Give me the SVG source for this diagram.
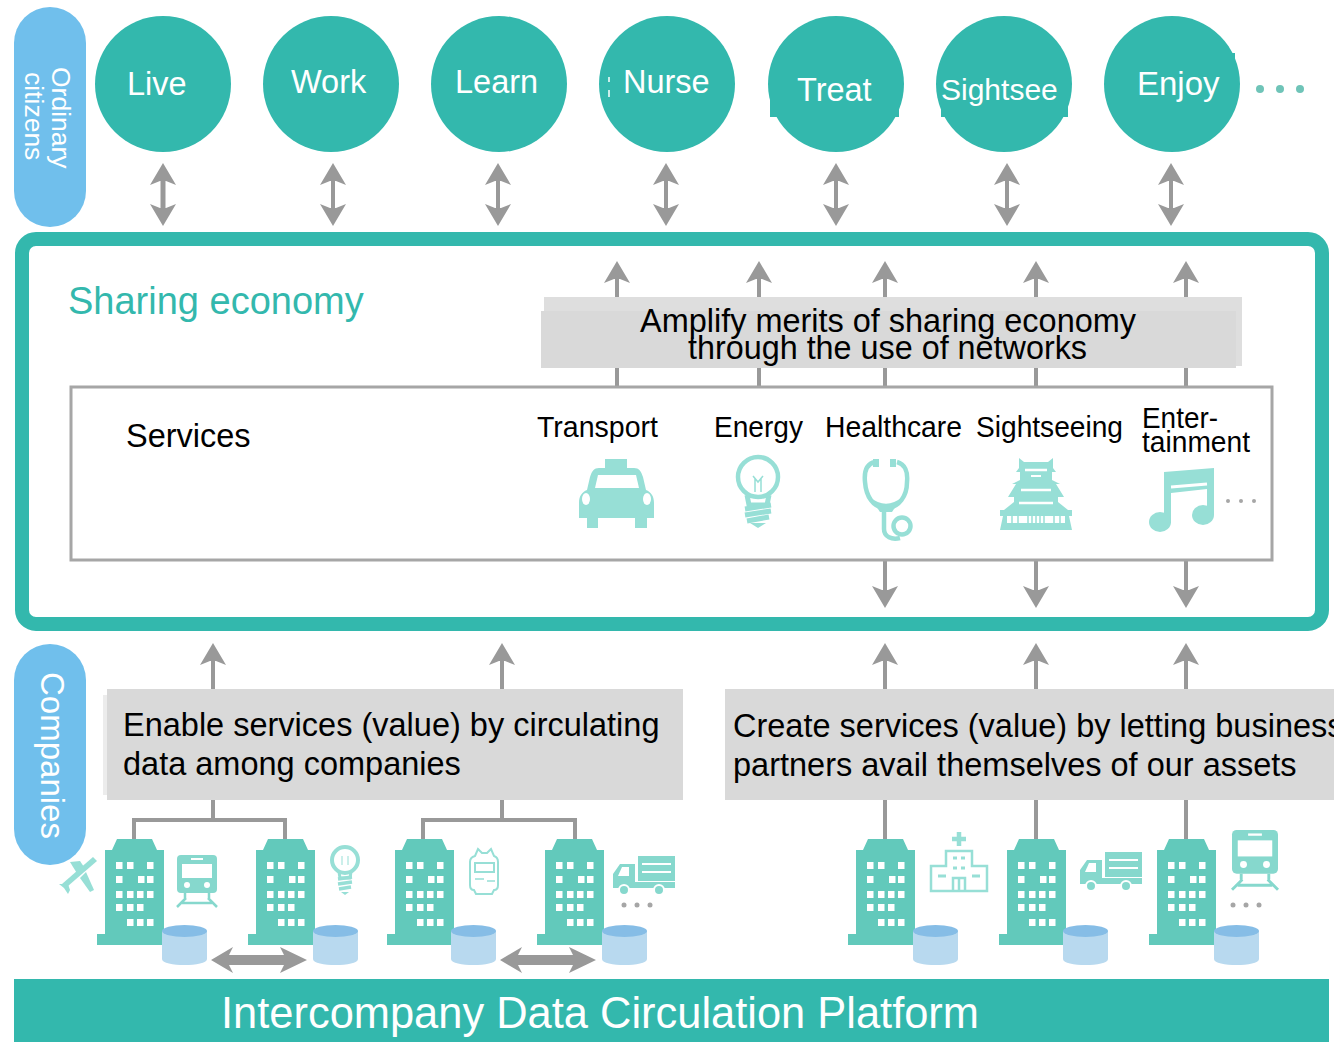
<svg xmlns="http://www.w3.org/2000/svg" width="1334" height="1042" viewBox="0 0 1334 1042">
<style>
text{font-family:"Liberation Sans",Arial,sans-serif;fill:#000}
.c{fill:#33b8ad}
.circ{font-size:32.500px;fill:#fff}
.lab{font-size:29px}
.big{font-size:32.500px}
.line{stroke:#999;stroke-width:4;fill:none}
.head{fill:#999}
.ic{fill:#97dfd6}
.ico{fill:none;stroke:#97dfd6;stroke-width:4.500}
.box{fill:#d9d9d9}
.dot{fill:#a6a6a6}
</style>
<defs>
<path id="upH" d="M0,0 L13,22 L3,18 L-3,18 L-13,22 Z"/>
<path id="dnH" d="M0,0 L13,-22 L3,-18 L-3,-18 L-13,-22 Z"/>
<g id="bld">
<path d="M0,106 V95 H8 V11 H15 L20,0 H55 L60,11 H67 V106 Z" fill="#62c9bb"/>
<g fill="#fff">
<rect x="19" y="23" width="6.500" height="7"/><rect x="30" y="23" width="6.500" height="7"/><rect x="50" y="23" width="6.500" height="7"/>
<rect x="19" y="37" width="6.500" height="7"/><rect x="41" y="37" width="6.500" height="7"/><rect x="50" y="37" width="6.500" height="7"/>
<rect x="19" y="52" width="6.500" height="7"/><rect x="30" y="52" width="6.500" height="7"/><rect x="40" y="52" width="6.500" height="7"/><rect x="50" y="52" width="6.500" height="7"/>
<rect x="19" y="65" width="6.500" height="7"/><rect x="30" y="65" width="6.500" height="7"/><rect x="40" y="65" width="6.500" height="7"/>
<rect x="30" y="80" width="6.500" height="7"/><rect x="40" y="80" width="6.500" height="7"/><rect x="50" y="80" width="6.500" height="7"/>
</g>
</g>
<g id="cyl">
<path d="M0,6 V34 C0,42 45,42 45,34 V6 Z" fill="#b8d9ef"/>
<ellipse cx="22.500" cy="6" rx="22.500" ry="6" fill="#86bde6"/>
</g>
<g id="train">
<rect x="0" y="0" width="40" height="38" rx="4" fill="#86d8cd"/>
<rect x="5" y="9" width="30" height="14" fill="#fff"/>
<rect x="14" y="3" width="12" height="2" fill="#fff"/>
<circle cx="10" cy="30" r="3" fill="#fff"/><circle cx="30" cy="30" r="3" fill="#fff"/>
<path d="M8,38 V43 M32,38 V43 M9,43 L0,52 M31,43 L40,52 M5,48 H35" fill="none" stroke="#86d8cd" stroke-width="2.500"/>
</g>
<g id="truck">
<rect x="25" y="0" width="37" height="25" fill="#86d8cd"/>
<path d="M29,8 H58 M29,16 H58" stroke="#fff" stroke-width="2"/>
<path d="M0,32 V18 L7,8 H22 V26 H62 V32 Z" fill="#86d8cd"/>
<path d="M5,20 L9,11 H16 V20 Z" fill="#fff"/>
<circle cx="11" cy="34" r="5" fill="#86d8cd" stroke="#fff" stroke-width="2"/>
<circle cx="46" cy="34" r="5" fill="#86d8cd" stroke="#fff" stroke-width="2"/>
</g>
<g id="bulb">
<circle cx="15" cy="15" r="13" fill="none" stroke="#97dfd6" stroke-width="4"/>
<path d="M9,27 L10,33 H20 L21,27" fill="none" stroke="#97dfd6" stroke-width="3"/>
<path d="M8,34 L22,32 M8,39 L22,37 M9,44 L21,42" stroke="#97dfd6" stroke-width="3.500"/>
<path d="M11,47 H19 L15,50 Z" fill="#97dfd6"/>
<path d="M12,11 V20 M18,11 V20" stroke="#97dfd6" stroke-width="1"/>
</g>
</defs>

<g id="connectors">
<g id="arrows-citizens">
<g transform="translate(163,0)"><path class="line" style="stroke-width:5" d="M0,175 V215"/><use href="#upH" y="163" class="head"/><use href="#dnH" y="226" class="head"/></g>
<g transform="translate(333,0)"><path class="line" d="M0,175 V215"/><use href="#upH" y="163" class="head"/><use href="#dnH" y="226" class="head"/></g>
<g transform="translate(498,0)"><path class="line" d="M0,175 V215"/><use href="#upH" y="163" class="head"/><use href="#dnH" y="226" class="head"/></g>
<g transform="translate(666,0)"><path class="line" d="M0,175 V215"/><use href="#upH" y="163" class="head"/><use href="#dnH" y="226" class="head"/></g>
<g transform="translate(836,0)"><path class="line" d="M0,175 V215"/><use href="#upH" y="163" class="head"/><use href="#dnH" y="226" class="head"/></g>
<g transform="translate(1007,0)"><path class="line" d="M0,175 V215"/><use href="#upH" y="163" class="head"/><use href="#dnH" y="226" class="head"/></g>
<g transform="translate(1171,0)"><path class="line" d="M0,175 V215"/><use href="#upH" y="163" class="head"/><use href="#dnH" y="226" class="head"/></g>
</g>
<g id="arrows-services">
<path class="line" d="M617,275 V387 M759,275 V387 M885,275 V387 M1036,275 V387 M1186,275 V387"/>
<use href="#upH" x="617" y="261" class="head"/><use href="#upH" x="759" y="261" class="head"/><use href="#upH" x="885" y="261" class="head"/><use href="#upH" x="1036" y="261" class="head"/><use href="#upH" x="1186" y="261" class="head"/>
<path class="line" d="M885,560 V595 M1036,560 V595 M1186,560 V595"/>
<use href="#dnH" x="885" y="608" class="head"/><use href="#dnH" x="1036" y="608" class="head"/><use href="#dnH" x="1186" y="608" class="head"/>
</g>
<g id="arrows-companies">
<path class="line" d="M213,656 V820 M134,839 V820 H285 V839 M502,656 V820 M423,839 V820 H575 V839 M885,656 V839 M1036,656 V839 M1186,656 V839"/>
<use href="#upH" x="213" y="643" class="head"/><use href="#upH" x="502" y="643" class="head"/><use href="#upH" x="885" y="643" class="head"/><use href="#upH" x="1036" y="643" class="head"/><use href="#upH" x="1186" y="643" class="head"/>
<path class="head" d="M211,960 L233,947 L229,955 H284 L280,947 L307,960 L280,973 L284,965 H229 L233,973 Z"/>
<path class="head" d="M500,960 L522,947 L518,955 H573 L569,947 L596,960 L569,973 L573,965 H518 L522,973 Z"/>
</g>
</g>

<g id="ordinary-citizens">
<rect x="14" y="7" width="72" height="220" rx="36" fill="#70bfec"/>
<text transform="translate(52,67) rotate(90)" style="font-size:26.500px;fill:#fff">Ordinary</text>
<text transform="translate(25,72) rotate(90)" style="font-size:26.500px;fill:#fff">citizens</text>
</g>
<g id="live"><circle class="c" cx="163" cy="84" r="68"/><text class="circ" x="127" y="95">Live</text></g>
<g id="work"><circle class="c" cx="331" cy="84" r="68"/><text class="circ" x="291" y="93">Work</text></g>
<g id="learn"><circle class="c" cx="499" cy="84" r="68"/><text class="circ" x="455" y="93">Learn</text></g>
<g id="nurse"><circle class="c" cx="667" cy="84" r="68"/><path d="M609,77 V82 M609,90 V97" stroke="#fff" stroke-width="1.500"/><text class="circ" x="623" y="93">Nurse</text></g>
<g id="treat"><circle class="c" cx="836" cy="84" r="68"/><rect class="c" x="770" y="72" width="129" height="45"/><text class="circ" x="797" y="101">Treat</text></g>
<g id="sightsee"><circle class="c" cx="1004" cy="84" r="68"/><rect class="c" x="941" y="72" width="127" height="45"/><text class="circ" x="941" y="100" style="font-size:30px">Sightsee</text></g>
<g id="enjoy"><circle class="c" cx="1172" cy="84" r="68"/><rect class="c" x="1130" y="53" width="105" height="45"/><text class="circ" x="1137" y="95" style="font-size:33px">Enjoy</text></g>
<g id="more-dots" fill="#6fc4b8"><circle cx="1260" cy="89" r="4"/><circle cx="1280" cy="89" r="4"/><circle cx="1300" cy="89" r="4"/></g>

<g id="sharing-economy">
<rect x="22" y="239" width="1300" height="385" rx="14" fill="none" stroke="#33b8ad" stroke-width="14"/>
<text x="68" y="314" style="font-size:38px;fill:#33b8ad">Sharing economy</text>
</g>
<g id="amplify">
<rect x="544" y="297" width="698" height="69" fill="#dedede"/>
<rect x="541" y="311" width="695" height="57" class="box"/>
<text x="640" y="332" style="font-size:32.500px" textLength="496" lengthAdjust="spacingAndGlyphs">Amplify merits of sharing economy</text>
<text x="688" y="359" style="font-size:32.500px" textLength="399" lengthAdjust="spacingAndGlyphs">through the use of networks</text>
</g>
<g id="services">
<rect x="71" y="387" width="1201" height="173" fill="#fff" stroke="#a6a6a6" stroke-width="3"/>
<text class="big" x="126" y="447">Services</text>
</g>
<g id="transport">
<text class="lab" x="537" y="437" textLength="121" lengthAdjust="spacingAndGlyphs">Transport</text>
<path class="ic" d="M605,459 H627 V468 H634 C639,468 641,471 643,477 L646,490 C651,492 654,496 654,503 V518 H647 V528 H635 V518 H598 V528 H587 V518 H579 V503 C579,496 582,492 587,490 L590,477 C592,471 594,468 599,468 H605 Z"/>
<path fill="#fff" d="M598,475 H636 L639,488 H595 Z"/>
<ellipse cx="586" cy="499" rx="4" ry="6" fill="#fff"/><ellipse cx="647" cy="499" rx="4" ry="6" fill="#fff"/>
</g>
<g id="energy">
<text class="lab" x="714" y="437" textLength="89" lengthAdjust="spacingAndGlyphs">Energy</text>
<circle class="ico" cx="758" cy="477" r="20"/>
<path d="M747,495 L749,505 H767 L769,495" fill="none" stroke="#97dfd6" stroke-width="5"/>
<path d="M745,509 L771,505 M745,515 L771,511 M747,521 L769,517" stroke="#97dfd6" stroke-width="5"/>
<path d="M750,523 H766 L758,528 Z" fill="#97dfd6"/>
<path d="M755,478 V492 M761,478 V492 M753,476 L758,482 L763,476" fill="none" stroke="#97dfd6" stroke-width="1.500"/>
</g>
<g id="healthcare">
<text class="lab" x="825" y="437" textLength="137" lengthAdjust="spacingAndGlyphs">Healthcare</text>
<path class="ico" d="M875,462 C866,464 864,472 865,482 C866,496 873,508 886,508 C899,508 907,496 907,482 C908,472 905,464 897,462"/>
<rect class="ic" x="873" y="459" width="6" height="8"/><rect class="ic" x="890" y="459" width="6" height="8"/>
<path class="ic" d="M870,497 C880,506 892,506 902,497 L892,512 H880 Z"/>
<path class="ico" d="M884,508 V529 C884,537 892,540 900,538"/>
<circle cx="902" cy="526" r="8.500" fill="none" stroke="#97dfd6" stroke-width="4.500"/>
</g>
<g id="sightseeing">
<text class="lab" x="976" y="437" textLength="147" lengthAdjust="spacingAndGlyphs">Sightseeing</text>
<path class="ic" d="M1019,458 L1024,462 H1048 L1053,458 V468 L1056,472 H1052 V480 L1060,484 H1012 L1020,480 V472 H1016 L1019,468 Z"/>
<path class="ic" d="M1008,497 L1016,484 H1056 L1064,497 H1058 V502 L1068,510 H1004 L1014,502 V497 Z"/>
<path class="ic" d="M1000,510 H1072 V516 H1069 L1072,530 H1000 L1003,516 H1000 Z"/>
<path d="M1025,470 H1047 M1021,490 H1051 M1019,503 H1053" stroke="#fff" stroke-width="2.500"/>
<path d="M1031,476 H1041" stroke="#fff" stroke-width="2"/>
<rect x="1007" y="516" width="58" height="7" fill="#fff"/>
<path d="M1012,516 V523 M1018,516 V523 M1028,516 V523 M1032,516 V523 M1036,516 V523 M1040,516 V523 M1044,516 V523 M1054,516 V523 M1060,516 V523" stroke="#97dfd6" stroke-width="1.500"/>
</g>
<g id="entertainment">
<text class="lab" x="1142" y="428" textLength="76" lengthAdjust="spacingAndGlyphs">Enter-</text>
<text class="lab" x="1142" y="452" textLength="108" lengthAdjust="spacingAndGlyphs">tainment</text>
<path class="ic" d="M1164,472 L1214,468 V515 H1207 V489 L1171,493 V523 H1164 Z"/>
<path d="M1171,487 L1207,484" stroke="#fff" stroke-width="3"/>
<ellipse class="ic" cx="1160" cy="522" rx="11" ry="10"/>
<ellipse class="ic" cx="1203" cy="515" rx="11" ry="10"/>
<g class="dot"><circle cx="1228" cy="501" r="2"/><circle cx="1241" cy="501" r="2"/><circle cx="1254" cy="501" r="2"/></g>
</g>

<g id="company-1">
<g fill="#97dfd6">
<path d="M93,857 L97,861 L68,886 L62,884 Z"/>
<path d="M70,862 L80,861 L86,870 L78,875 Z"/>
<path d="M80,878 L86,872 L94,890 L90,892 Z"/>
<path d="M59,884 L68,884 L70,890 L68,894 L64,888 Z"/>
</g>
<use href="#bld" x="97" y="839"/><use href="#cyl" x="162" y="925"/>
<use href="#train" x="177" y="855"/>
</g>
<g id="companies">
<rect x="14" y="644" width="72" height="221" rx="36" fill="#70bfec"/>
<text transform="translate(41,672) rotate(90)" style="font-size:33px;fill:#fff">Companies</text>
</g>
<g id="enable">
<rect x="103" y="695" width="4" height="100" fill="#ececec"/>
<rect x="107" y="689" width="576" height="111" class="box"/>
<text class="big" x="123" y="736">Enable services (value) by circulating</text>
<text class="big" x="123" y="775">data among companies</text>
</g>
<g id="create">
<rect x="725" y="689" width="609" height="111" class="box"/>
<text class="big" x="733" y="737">Create services (value) by letting business</text>
<text class="big" x="733" y="776">partners avail themselves of our assets</text>
</g>

<g id="company-2"><use href="#bld" x="248" y="839"/><use href="#cyl" x="313" y="925"/><use href="#bulb" x="330" y="845"/></g>
<g id="company-3">
<use href="#bld" x="387" y="839"/><use href="#cyl" x="451" y="925"/>
<path d="M475,856 L478,849 L482,853 H487 L491,849 L494,856 C497,857 498,859 498,862 V885 C498,888 497,890 494,890 L492,894 H476 L474,890 C471,890 470,888 470,885 V862 C470,859 471,857 475,856 Z" fill="#fff" stroke="#97dfd6" stroke-width="2"/>
<rect x="475" y="863" width="19" height="9" fill="none" stroke="#97dfd6" stroke-width="2"/>
<path d="M475,879 H484 M487,881 H495" stroke="#97dfd6" stroke-width="1.500"/>
</g>
<g id="company-4">
<use href="#bld" x="537" y="839"/><use href="#cyl" x="602" y="925"/><use href="#truck" x="613" y="856"/>
<g class="dot"><circle cx="624" cy="905" r="2.500"/><circle cx="637" cy="905" r="2.500"/><circle cx="650" cy="905" r="2.500"/></g>
</g>
<g id="company-5">
<use href="#bld" x="848" y="839"/><use href="#cyl" x="913" y="925"/>
<path d="M959,832 V846 M952,839 H966" stroke="#97dfd6" stroke-width="4.500"/>
<path d="M946,851 H972 V866 H987 V891 H931 V866 H946 Z" fill="#fff" stroke="#97dfd6" stroke-width="2.500"/>
<path d="M953,858 H957 M961,858 H965 M953,868 H957 M961,868 H965 M938,876 H946 M972,876 H980" stroke="#97dfd6" stroke-width="3"/>
<path d="M953,891 V878 H965 V891 M959,878 V891" fill="none" stroke="#97dfd6" stroke-width="2.500"/>
</g>
<g id="company-6"><use href="#bld" x="999" y="839"/><use href="#cyl" x="1063" y="925"/><use href="#truck" x="1080" y="852"/></g>
<g id="company-7">
<use href="#bld" x="1149" y="839"/><use href="#cyl" x="1214" y="925"/><use href="#train" transform="translate(1232,830) scale(1.150)"/>
<g class="dot"><circle cx="1233" cy="905" r="2.500"/><circle cx="1246" cy="905" r="2.500"/><circle cx="1259" cy="905" r="2.500"/></g>
</g>

<g id="platform">
<rect x="14" y="979" width="1315" height="63" fill="#33b8ad"/>
<text x="221" y="1028" style="font-size:44px;fill:#fff" textLength="758" lengthAdjust="spacingAndGlyphs">Intercompany Data Circulation Platform</text>
</g>
</svg>
